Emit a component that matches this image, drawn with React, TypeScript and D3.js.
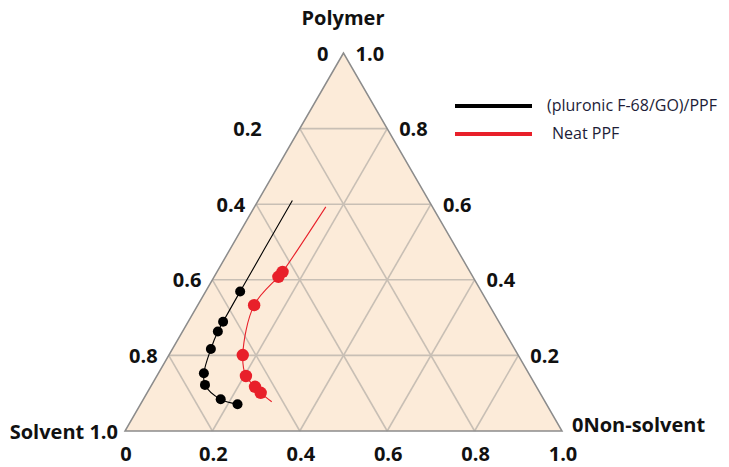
import React from "react";
import * as d3 from "d3";

// Ternary data: polymer fraction (P) and non-solvent fraction (N); solvent = 1 - P - N
const blackCurvePolymer = [0.61, 0.369, 0.289, 0.263, 0.217, 0.153, 0.122, 0.084, 0.071];
const blackCurveNonSolvent = [0.078, 0.079, 0.08, 0.081, 0.088, 0.104, 0.122, 0.177, 0.222];
const blackMarkerFrom = 1;

const redCurvePolymer = [0.593, 0.421, 0.408, 0.333, 0.201, 0.1455, 0.117, 0.101, 0.0775];
const redCurveNonSolvent = [0.163, 0.15, 0.147, 0.129, 0.169, 0.204, 0.239, 0.26, 0.297];
const redMarkerFrom = 1;
const redMarkerTo = 7;

const gridLevels = [0.2, 0.4, 0.6, 0.8];
const leftTicks = ["0", "0.2", "0.4", "0.6", "0.8"]; // solvent, top to bottom
const rightTicks = ["1.0", "0.8", "0.6", "0.4", "0.2"]; // polymer, top to bottom
const bottomTicks = ["0", "0.2", "0.4", "0.6", "0.8", "1.0"];
const legendLabels = ["(pluronic F-68/GO)/PPF", "Neat PPF"];
const legendColors = ["#000000", "#e8202a"];

const W = 729;
const H = 467;
const LEFT = 125;
const RIGHT = 562;
const BASE = 431;
const APEX = 53;
const leftGaps = [15, 38, 11, 11, 11];

export default function App() {
  const xs = d3.scaleLinear().domain([0, 1]).range([LEFT, RIGHT]);
  const ys = d3.scaleLinear().domain([0, 1]).range([BASE, APEX]);
  const px = (p: number, n: number) => xs(n + p / 2);
  const py = (p: number) => ys(p);
  const pt = (p: number, n: number): [number, number] => [px(p, n), py(p)];

  const tri = [pt(1, 0), pt(0, 0), pt(0, 1)];
  const gridSegs: [number, number][][] = [];
  gridLevels.forEach((k) => {
    gridSegs.push([pt(k, 0), pt(k, 1 - k)]);
    gridSegs.push([pt(1 - k, 0), pt(0, 1 - k)]);
    gridSegs.push([pt(1 - k, k), pt(0, k)]);
  });

  const line = d3
    .line<[number, number]>()
    .x((d) => d[0])
    .y((d) => d[1])
    .curve(d3.curveCatmullRom.alpha(0.5));

  const blackPts = blackCurvePolymer.map((p, i) => pt(p, blackCurveNonSolvent[i]));
  const redPts = redCurvePolymer.map((p, i) => pt(p, redCurveNonSolvent[i]));

  const font = "'Open Sans', 'DejaVu Sans', sans-serif";
  const lab = { fontFamily: font, fontWeight: 700, fontSize: 20, fill: "#111" } as const;

  return (
    <svg
      width={W}
      height={H}
      style={{ position: "absolute", left: 0, top: 0, background: "#fff" }}
    >
      <polygon
        points={tri.map((d) => d.join(",")).join(" ")}
        fill="#fcebd9"
        stroke="none"
      />
      {gridSegs.map((s, i) => (
        <line
          key={i}
          x1={s[0][0]}
          y1={s[0][1]}
          x2={s[1][0]}
          y2={s[1][1]}
          stroke="#c8bfb5"
          strokeWidth={1.6}
        />
      ))}
      <polygon
        points={tri.map((d) => d.join(",")).join(" ")}
        fill="none"
        stroke="#8c8c8c"
        strokeWidth={1.5}
      />

      <path d={line(blackPts) || ""} fill="none" stroke="#000" strokeWidth={1.1} />
      <path d={line(redPts) || ""} fill="none" stroke="#e8202a" strokeWidth={1.1} />
      {blackPts.slice(blackMarkerFrom).map((d, i) => (
        <circle key={"b" + i} cx={d[0]} cy={d[1]} r={5} fill="#000" />
      ))}
      {redPts.slice(redMarkerFrom, redMarkerTo + 1).map((d, i) => (
        <circle key={"r" + i} cx={d[0]} cy={d[1]} r={6.2} fill="#e8202a" />
      ))}

      {leftTicks.map((t, i) => {
        const p = 1 - i * 0.2;
        return (
          <text
            key={"l" + i}
            x={px(p, 0) - leftGaps[i]}
            y={py(p)}
            textAnchor="end"
            dominantBaseline="central"
            {...lab}
          >
            {t}
          </text>
        );
      })}
      <text x={LEFT - 7} y={BASE} textAnchor="end" dominantBaseline="central" {...lab}>
        Solvent 1.0
      </text>
      {rightTicks.map((t, i) => {
        const p = 1 - i * 0.2;
        return (
          <text
            key={"r" + i}
            x={px(p, 1 - p) + 12}
            y={py(p)}
            textAnchor="start"
            dominantBaseline="central"
            {...lab}
          >
            {t}
          </text>
        );
      })}
      <text x={RIGHT + 10} y={BASE - 7} textAnchor="start" dominantBaseline="central" {...lab}>
        0Non-solvent
      </text>
      {bottomTicks.map((t, i) => (
        <text key={"bt" + i} x={xs(i * 0.2) + 1} y={461} textAnchor="middle" {...lab}>
          {t}
        </text>
      ))}
      <text x={343} y={25} textAnchor="middle" {...lab}>
        Polymer
      </text>

      {legendLabels.map((l, i) => {
        const y = i === 0 ? 106 : 134;
        return (
          <g key={"lg" + i}>
            <line x1={455} x2={532} y1={y} y2={y} stroke={legendColors[i]} strokeWidth={4} />
            <text
              x={i === 0 ? 547 : 552}
              y={y - 1}
              dominantBaseline="central"
              fontFamily={font}
              fontSize={16}
              fill="#1d1d38"
            >
              {l}
            </text>
          </g>
        );
      })}
    </svg>
  );
}
